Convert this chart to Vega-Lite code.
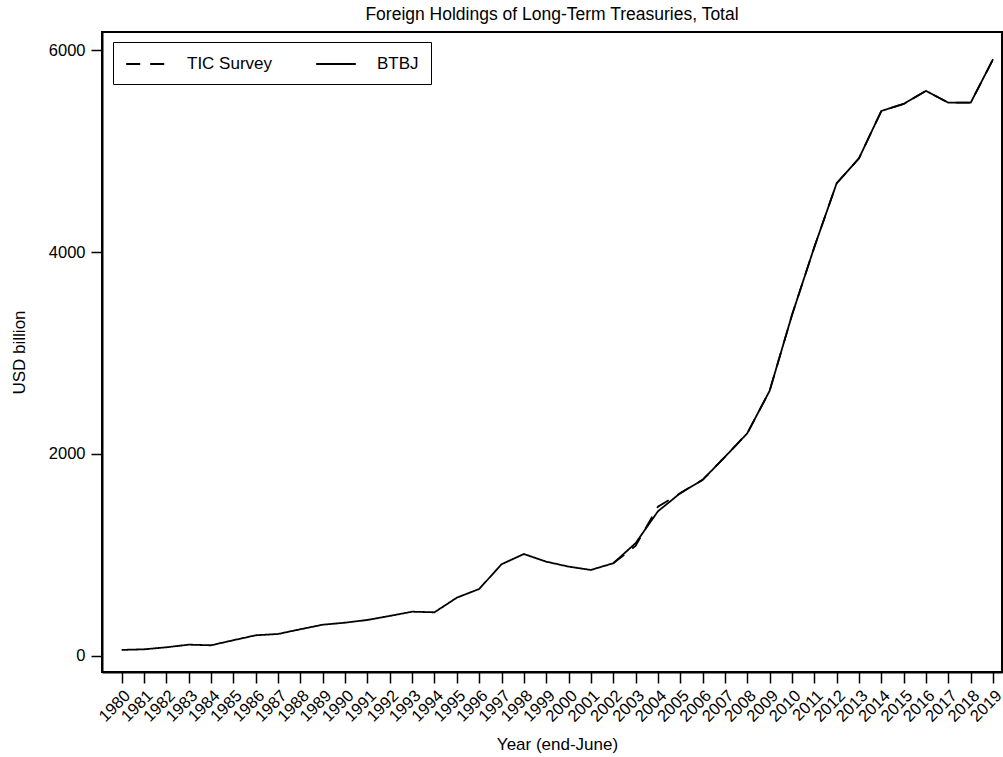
{
  "$schema": "https://vega.github.io/schema/vega-lite/v6.json",
  "autosize": {"type": "none"},
  "width": 900,
  "height": 640,
  "padding": {"left": 102, "top": 32, "right": 1, "bottom": 85},
  "background": "white",
  "title": {
    "text": "Foreign Holdings of Long-Term Treasuries, Total",
    "font": "Liberation Sans",
    "fontSize": 17.5,
    "fontWeight": "normal",
    "color": "black",
    "anchor": "middle",
    "offset": 9
  },
  "data": {
    "values": [
      {"year": 1980, "series": "BTBJ", "value": 56},
      {"year": 1981, "series": "BTBJ", "value": 62},
      {"year": 1982, "series": "BTBJ", "value": 82},
      {"year": 1983, "series": "BTBJ", "value": 108},
      {"year": 1984, "series": "BTBJ", "value": 102},
      {"year": 1985, "series": "BTBJ", "value": 152},
      {"year": 1986, "series": "BTBJ", "value": 201},
      {"year": 1987, "series": "BTBJ", "value": 214},
      {"year": 1988, "series": "BTBJ", "value": 261},
      {"year": 1989, "series": "BTBJ", "value": 306},
      {"year": 1990, "series": "BTBJ", "value": 326},
      {"year": 1991, "series": "BTBJ", "value": 353},
      {"year": 1992, "series": "BTBJ", "value": 393},
      {"year": 1993, "series": "BTBJ", "value": 435},
      {"year": 1994, "series": "BTBJ", "value": 429},
      {"year": 1995, "series": "BTBJ", "value": 574},
      {"year": 1996, "series": "BTBJ", "value": 660},
      {"year": 1997, "series": "BTBJ", "value": 905},
      {"year": 1998, "series": "BTBJ", "value": 1007},
      {"year": 1999, "series": "BTBJ", "value": 931},
      {"year": 2000, "series": "BTBJ", "value": 882},
      {"year": 2001, "series": "BTBJ", "value": 849},
      {"year": 2002, "series": "BTBJ", "value": 915},
      {"year": 2003, "series": "BTBJ", "value": 1114},
      {"year": 2004, "series": "BTBJ", "value": 1430},
      {"year": 2005, "series": "BTBJ", "value": 1610},
      {"year": 2006, "series": "BTBJ", "value": 1742},
      {"year": 2007, "series": "BTBJ", "value": 1970},
      {"year": 2008, "series": "BTBJ", "value": 2204},
      {"year": 2009, "series": "BTBJ", "value": 2625},
      {"year": 2010, "series": "BTBJ", "value": 3376},
      {"year": 2011, "series": "BTBJ", "value": 4050},
      {"year": 2012, "series": "BTBJ", "value": 4683},
      {"year": 2013, "series": "BTBJ", "value": 4931},
      {"year": 2014, "series": "BTBJ", "value": 5400},
      {"year": 2015, "series": "BTBJ", "value": 5470},
      {"year": 2016, "series": "BTBJ", "value": 5599},
      {"year": 2017, "series": "BTBJ", "value": 5482},
      {"year": 2018, "series": "BTBJ", "value": 5482},
      {"year": 2019, "series": "BTBJ", "value": 5913},
      {"year": 2002, "series": "TIC Survey", "value": 915},
      {"year": 2003, "series": "TIC Survey", "value": 1088},
      {"year": 2004, "series": "TIC Survey", "value": 1476},
      {"year": 2005, "series": "TIC Survey", "value": 1610},
      {"year": 2006, "series": "TIC Survey", "value": 1742},
      {"year": 2007, "series": "TIC Survey", "value": 1970},
      {"year": 2008, "series": "TIC Survey", "value": 2204},
      {"year": 2009, "series": "TIC Survey", "value": 2625},
      {"year": 2010, "series": "TIC Survey", "value": 3376},
      {"year": 2011, "series": "TIC Survey", "value": 4050},
      {"year": 2012, "series": "TIC Survey", "value": 4683},
      {"year": 2013, "series": "TIC Survey", "value": 4931},
      {"year": 2014, "series": "TIC Survey", "value": 5400},
      {"year": 2015, "series": "TIC Survey", "value": 5470},
      {"year": 2016, "series": "TIC Survey", "value": 5599},
      {"year": 2017, "series": "TIC Survey", "value": 5482},
      {"year": 2018, "series": "TIC Survey", "value": 5482},
      {"year": 2019, "series": "TIC Survey", "value": 5913}
    ]
  },
  "mark": {"type": "line", "strokeWidth": 1.8, "clip": true},
  "encoding": {
    "x": {
      "field": "year",
      "type": "quantitative",
      "scale": {"domain": [1979.12, 2019.4], "nice": false, "zero": false},
      "axis": {
        "title": "Year (end-June)",
        "values": [1980,1981,1982,1983,1984,1985,1986,1987,1988,1989,1990,1991,1992,1993,1994,1995,1996,1997,1998,1999,2000,2001,2002,2003,2004,2005,2006,2007,2008,2009,2010,2011,2012,2013,2014,2015,2016,2017,2018,2019],
        "format": "d",
        "labelAngle": -45,
        "labelFontSize": 16.5,
        "labelPadding": 4,
        "labelDx": -1.5,
        "labelOverlap": false,
        "labelFlush": false,
        "titleX": 455,
        "titleY": 72,
        "titleBaseline": "middle",
        "titleAnchor": "middle"
      }
    },
    "y": {
      "field": "value",
      "type": "quantitative",
      "scale": {"domain": [-163, 6183], "nice": false, "zero": false},
      "axis": {
        "title": "USD billion",
        "values": [0, 2000, 4000, 6000],
        "format": "d",
        "labelPadding": 6,
        "titleX": -83,
        "titleY": 320,
        "titleAngle": -90,
        "titleBaseline": "middle",
        "titleAnchor": "middle"
      }
    },
    "color": {
      "field": "series",
      "type": "nominal",
      "scale": {"domain": ["TIC Survey", "BTBJ"], "range": ["black", "black"]},
      "legend": {
        "title": null,
        "orient": "none",
        "legendX": 11,
        "legendY": 10,
        "direction": "horizontal",
        "columns": 2,
        "strokeColor": "black",
        "padding": 12,
        "symbolType": "M-2.2,0H2.2",
        "symbolSize": 324,
        "symbolOffset": 11,
        "symbolStrokeWidth": 1.8,
        "labelOffset": 31,
        "columnPadding": 39,
        "labelFontSize": 17,
        "labelFont": "Liberation Sans",
        "labelColor": "black",
        "fillColor": "white"
      }
    },
    "strokeDash": {
      "field": "series",
      "type": "nominal",
      "scale": {"domain": ["TIC Survey", "BTBJ"], "range": [[14, 10], [1, 0]]}
    }
  },
  "config": {
    "view": {"stroke": "black", "strokeWidth": 2},
    "axis": {
      "grid": false,
      "domainColor": "black",
      "domainWidth": 2,
      "tickColor": "black",
      "tickWidth": 1.5,
      "tickSize": 11,
      "labelFont": "Liberation Sans",
      "labelFontSize": 16.5,
      "labelColor": "black",
      "labelPadding": 5,
      "titleFont": "Liberation Sans",
      "titleFontSize": 17,
      "titleFontWeight": "normal",
      "titleColor": "black"
    }
  }
}
